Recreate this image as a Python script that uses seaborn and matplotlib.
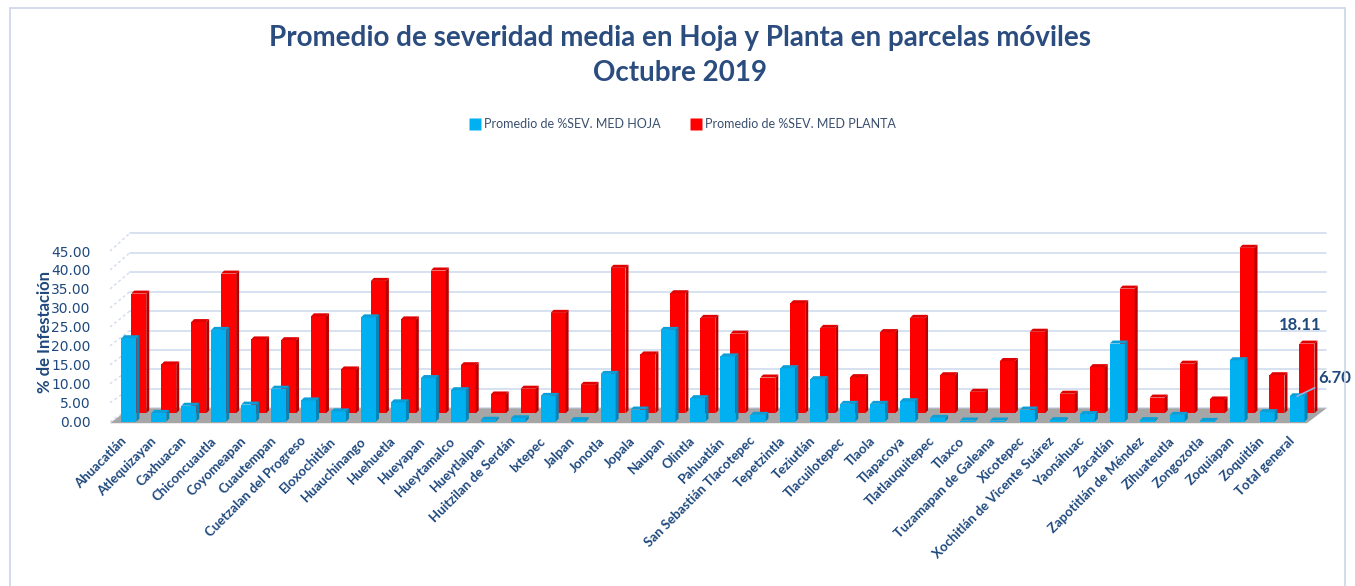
import numpy as np
import pandas as pd
import matplotlib
matplotlib.use("Agg")
import matplotlib.pyplot as plt
from matplotlib.patches import Polygon, Rectangle
from matplotlib.lines import Line2D
from matplotlib.transforms import ScaledTranslation
import seaborn as sns

# ── DATA ────────────────────────────────────────────────────────────
municipios = [
    "Ahuacatlán", "Atlequizayan", "Caxhuacan", "Chiconcuautla", "Coyomeapan",
    "Cuautempan", "Cuetzalan del Progreso", "Eloxochitlán", "Huauchinango",
    "Huehuetla", "Hueyapan", "Hueytamalco", "Hueytlalpan", "Huitzilan de Serdán",
    "Ixtepec", "Jalpan", "Jonotla", "Jopala", "Naupan", "Olintla", "Pahuatlán",
    "San Sebastián Tlacotepec", "Tepetzintla", "Teziutlán", "Tlacuilotepec",
    "Tlaola", "Tlapacoya", "Tlatlauquitepec", "Tlaxco", "Tuzamapan de Galeana",
    "Xicotepec", "Xochitlán de Vicente Suárez", "Yaonáhuac", "Zacatlán",
    "Zapotitlán de Méndez", "Zihuateutla", "Zongozotla", "Zoquiapan",
    "Zoquitlán", "Total general",
]
sev_hoja = [22.0, 2.3, 4.2, 24.2, 4.5, 8.7, 5.6, 2.7, 27.5, 5.1,
            11.5, 8.3, 0.5, 0.9, 6.8, 0.4, 12.6, 3.2, 24.2, 6.2,
            17.2, 1.8, 14.1, 11.2, 4.7, 4.7, 5.4, 1.0, 0.3, 0.3,
            3.2, 0.4, 2.0, 20.6, 0.4, 1.8, 0.2, 16.2, 2.5, 6.70]
sev_planta = [31.1, 12.7, 23.7, 36.3, 19.2, 19.0, 25.2, 11.4, 34.4, 24.4,
              37.1, 12.5, 4.9, 6.4, 26.1, 7.4, 37.8, 15.3, 31.2, 24.8,
              20.7, 9.3, 28.6, 22.2, 9.4, 21.1, 24.8, 9.9, 5.6, 13.6,
              21.2, 5.1, 12.0, 32.4, 4.1, 12.9, 3.6, 43.0, 9.9, 18.11]
y_ticks = [0, 5, 10, 15, 20, 25, 30, 35, 40, 45]
serie_hoja = "Promedio de %SEV. MED HOJA"
serie_planta = "Promedio de %SEV. MED PLANTA"

# ── STYLE ───────────────────────────────────────────────────────────
sns.set_theme(style="white")
plt.rcParams["font.family"] = ["Lato", "DejaVu Sans"]

AZUL, AZUL_LADO, AZUL_TOPE = "#00B0F0", "#0086B8", "#0A9FD8"
ROJO, ROJO_LADO, ROJO_TOPE = "#FF0000", "#B80000", "#E00000"
TXT = "#1F497D"
GRID = "#D0DCEE"

# pseudo-3D depth settings (data units)
RED_SHIFT, RED_BASE, RED_SCALE = 0.33, 2.2, 1.015
WALL_BASE, WALL_SCALE = 3.53, 1.025
DX, DY = 0.1, 0.8

df = pd.DataFrame({"pos": np.arange(len(municipios)),
                   "hoja": sev_hoja, "planta": sev_planta})

fig = plt.figure(figsize=(13.55, 5.86), dpi=100)
ax = fig.add_axes([110 / 1355, 1 - 425 / 586, 1220 / 1355, 200 / 586])


def add_faces(patches, side, top):
    # fake 3D: darker side face + top face on each bar
    for p in patches:
        x0, y0, w, h = p.get_x(), p.get_y(), p.get_width(), p.get_height()
        x1, y1 = x0 + w, y0 + h
        ax.add_patch(Polygon([(x1, y0), (x1 + DX, y0 + DY), (x1 + DX, y1 + DY), (x1, y1)],
                             closed=True, facecolor=side, edgecolor="none",
                             zorder=p.get_zorder()))
        ax.add_patch(Polygon([(x0, y1), (x0 + DX, y1 + DY), (x1 + DX, y1 + DY), (x1, y1)],
                             closed=True, facecolor=top, edgecolor="none",
                             zorder=p.get_zorder()))


# floor
n = len(municipios)
floor = Polygon([(-0.63, -0.4), (n - 0.67, -0.4), (n - 0.02, WALL_BASE), (0.03, WALL_BASE)],
                closed=True, facecolor="#A6A6A6", edgecolor="none", zorder=1)
ax.add_patch(floor)

# back wall gridlines + diagonal tick connectors
for v in y_ticks:
    yb = WALL_BASE + v * WALL_SCALE
    ax.plot([0.03, n - 0.02], [yb, yb], color=GRID, lw=1.2, zorder=0.5)
    ax.plot([-0.63, 0.03], [v, yb], color=GRID, lw=1.0, ls=(0, (2, 2)), zorder=0.5)

# red (back row)
n_before = len(ax.patches)
sns.barplot(data=df.assign(pos=df["pos"] + RED_SHIFT), x="pos", y="planta",
            native_scale=True, width=0.5, color=ROJO, saturation=1,
            edgecolor="none", ax=ax, zorder=3)
red_patches = ax.patches[n_before:]
for p in red_patches:
    p.set_y(RED_BASE)
    p.set_height(p.get_height() * RED_SCALE)
    p.set_zorder(3)
add_faces(red_patches, ROJO_LADO, ROJO_TOPE)

# blue (front row)
n_before = len(ax.patches)
sns.barplot(data=df, x="pos", y="hoja", native_scale=True, width=0.5,
            color=AZUL, saturation=1, edgecolor="none", ax=ax, zorder=4)
blue_patches = ax.patches[n_before:]
for p in blue_patches:
    p.set_zorder(4)
add_faces(blue_patches, AZUL_LADO, AZUL_TOPE)

ax.set_xlim(-0.63, 40.1)
ax.set_ylim(-0.87, 51.86)
ax.set_xlabel("")
ax.set_ylabel("")
for s in ax.spines.values():
    s.set_visible(False)
ax.set_yticks(y_ticks)
ax.set_yticklabels([f"{v:.2f}" for v in y_ticks], color=TXT, fontsize=10,
                   family="DejaVu Sans")
ax.tick_params(axis="y", length=0, pad=14)
ax.set_xticks(np.arange(n))
ax.set_xticklabels(municipios, rotation=45, ha="right", rotation_mode="anchor",
                   fontsize=9.5, fontweight="bold", color=TXT)
ax.tick_params(axis="x", length=0, pad=7)
off = ScaledTranslation(-0.09, 0, fig.dpi_scale_trans)
for lab in ax.get_xticklabels():
    lab.set_transform(lab.get_transform() + off)

# data labels for Total general
i_tot = n - 1
ax.annotate(f"{sev_planta[i_tot]:.2f}",
            xy=(i_tot + RED_SHIFT, RED_BASE + sev_planta[i_tot] * RED_SCALE),
            xytext=(-7, 19), textcoords="offset pixels", ha="center", va="center",
            fontsize=12, fontweight="bold", color=TXT, zorder=6)
ax.annotate(f"{sev_hoja[i_tot]:.2f}", xy=(i_tot, sev_hoja[i_tot]),
            xytext=(21, 18), textcoords="offset pixels", ha="left", va="center",
            fontsize=12, fontweight="bold", color=TXT, zorder=6,
            arrowprops=dict(arrowstyle="-", color="#8DB4E2", lw=1.2,
                            shrinkA=0, shrinkB=0))

# titles, axis label, legend
fig.text(680 / 1355, 1 - 38 / 586,
         "Promedio de severidad media en Hoja y Planta en parcelas móviles",
         ha="center", va="center", fontsize=20, fontweight="bold", color="#2B4C7E")
fig.text(680 / 1355, 1 - 73 / 586, "Octubre 2019",
         ha="center", va="center", fontsize=20, fontweight="bold", color="#2B4C7E")
fig.text(45 / 1355, 1 - 332 / 586, "% de Infestación", rotation=90,
         ha="center", va="center", fontsize=12, fontweight="bold", color=TXT)

handles = [Line2D([0], [0], marker="s", ls="none", markersize=8,
                  markerfacecolor=AZUL, markeredgecolor="none"),
           Line2D([0], [0], marker="s", ls="none", markersize=8,
                  markerfacecolor=ROJO, markeredgecolor="none")]
fig.legend(handles, [serie_hoja, serie_planta], loc="center",
           bbox_to_anchor=(683 / 1355, 1 - 124 / 586), ncol=2, frameon=False,
           fontsize=9, labelcolor="#3A4F6E", handletextpad=0.3,
           columnspacing=2.5, handlelength=0.8)

# chart border
fig.patches.append(Rectangle((10 / 1355, -0.01), 1335 / 1355, 1 - 8 / 586 + 0.01,
                             transform=fig.transFigure, fill=False,
                             edgecolor="#C9D5E6", lw=1.2))

fig.savefig("out.png", dpi=100, facecolor="white")
